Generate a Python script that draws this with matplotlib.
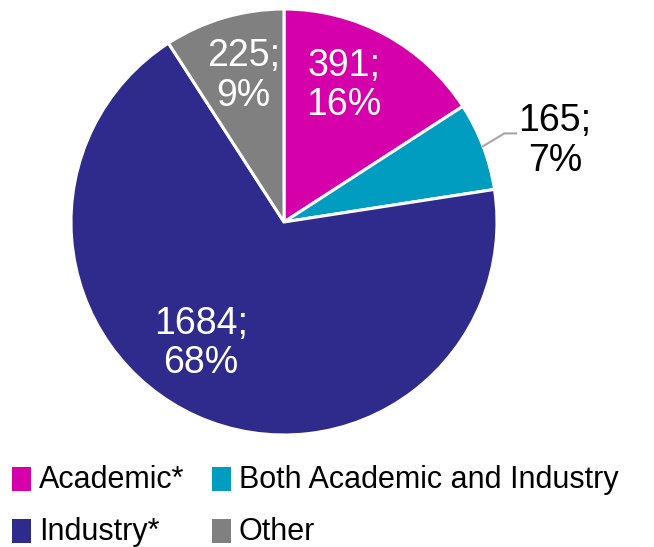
import matplotlib
matplotlib.use("Agg")
import matplotlib.pyplot as plt
from matplotlib.patches import Rectangle
import numpy as np

# contagens por categoria (ordem horária a partir do topo)
categorias = ["Academic*", "Both Academic and Industry", "Industry*", "Other"]
valores = [391, 165, 1684, 225]
cores = ["#D500A9", "#009DC0", "#2E2B8C", "#808080"]

# posição dos rótulos em unidades de raio (x, y) e cor do texto
pos_rotulos = [(0.28, 0.64), (1.10, 0.38), (-0.39, -0.57), (-0.19, 0.685)]
cor_rotulos = ["white", "black", "white", "white"]

W, H = 654, 547
fig = plt.figure(figsize=(W / 100, H / 100), dpi=100)
plt.rcParams["font.family"] = ["Liberation Sans", "DejaVu Sans"]

# eixo quadrado em pixels: centro (284, 222 a partir do topo), raio 213
cx, cy, r = 284, 222, 213
ax = fig.add_axes([(cx - r) / W, (H - cy - r) / H, 2 * r / W, 2 * r / H])

total = sum(valores)
fatias, _ = ax.pie(valores, colors=cores, startangle=90, counterclock=False,
                   radius=1.0, wedgeprops=dict(edgecolor="white", linewidth=2.2))
ax.set_xlim(-1, 1)
ax.set_ylim(-1, 1)
ax.set_aspect("equal")
ax.axis("off")

for i, (v, (x, y)) in enumerate(zip(valores, pos_rotulos)):
    pct = round(100 * v / total)
    txt = f"{v};\n{pct}%"
    ha = "center"
    if i == 1:
        # rótulo externo com linha de chamada
        w = fatias[i]
        ang = np.radians((w.theta1 + w.theta2) / 2)
        x0, y0 = np.cos(ang), np.sin(ang)
        ax.plot([x0, x0 + 0.10, x - 0.01], [y0, y0 + 0.06, y0 + 0.06],
                color="#A6A6A6", lw=1.5, clip_on=False)
        ha = "left"
    ax.text(x, y, txt, ha=ha, va="center", multialignment="center",
            fontsize=27, color=cor_rotulos[i], linespacing=1.12)

# legenda desenhada à mão: 2 colunas x 2 linhas
col_x = [12, 212]
lin_y = [467, 519]
ordem = [(0, 0, 0), (1, 1, 0), (2, 0, 1), (3, 1, 1)]
for k, c, l in ordem:
    x0 = col_x[c]
    y0 = lin_y[l]
    fig.patches.append(Rectangle((x0 / W, 1 - (y0 + 24) / H), 19 / W, 24 / H,
                                 transform=fig.transFigure, facecolor=cores[k],
                                 edgecolor="none"))
    fig.text((x0 + 27) / W, 1 - (y0 + 13) / H, categorias[k],
             ha="left", va="center", fontsize=22, color="black")

fig.savefig("out.png", dpi=100)
